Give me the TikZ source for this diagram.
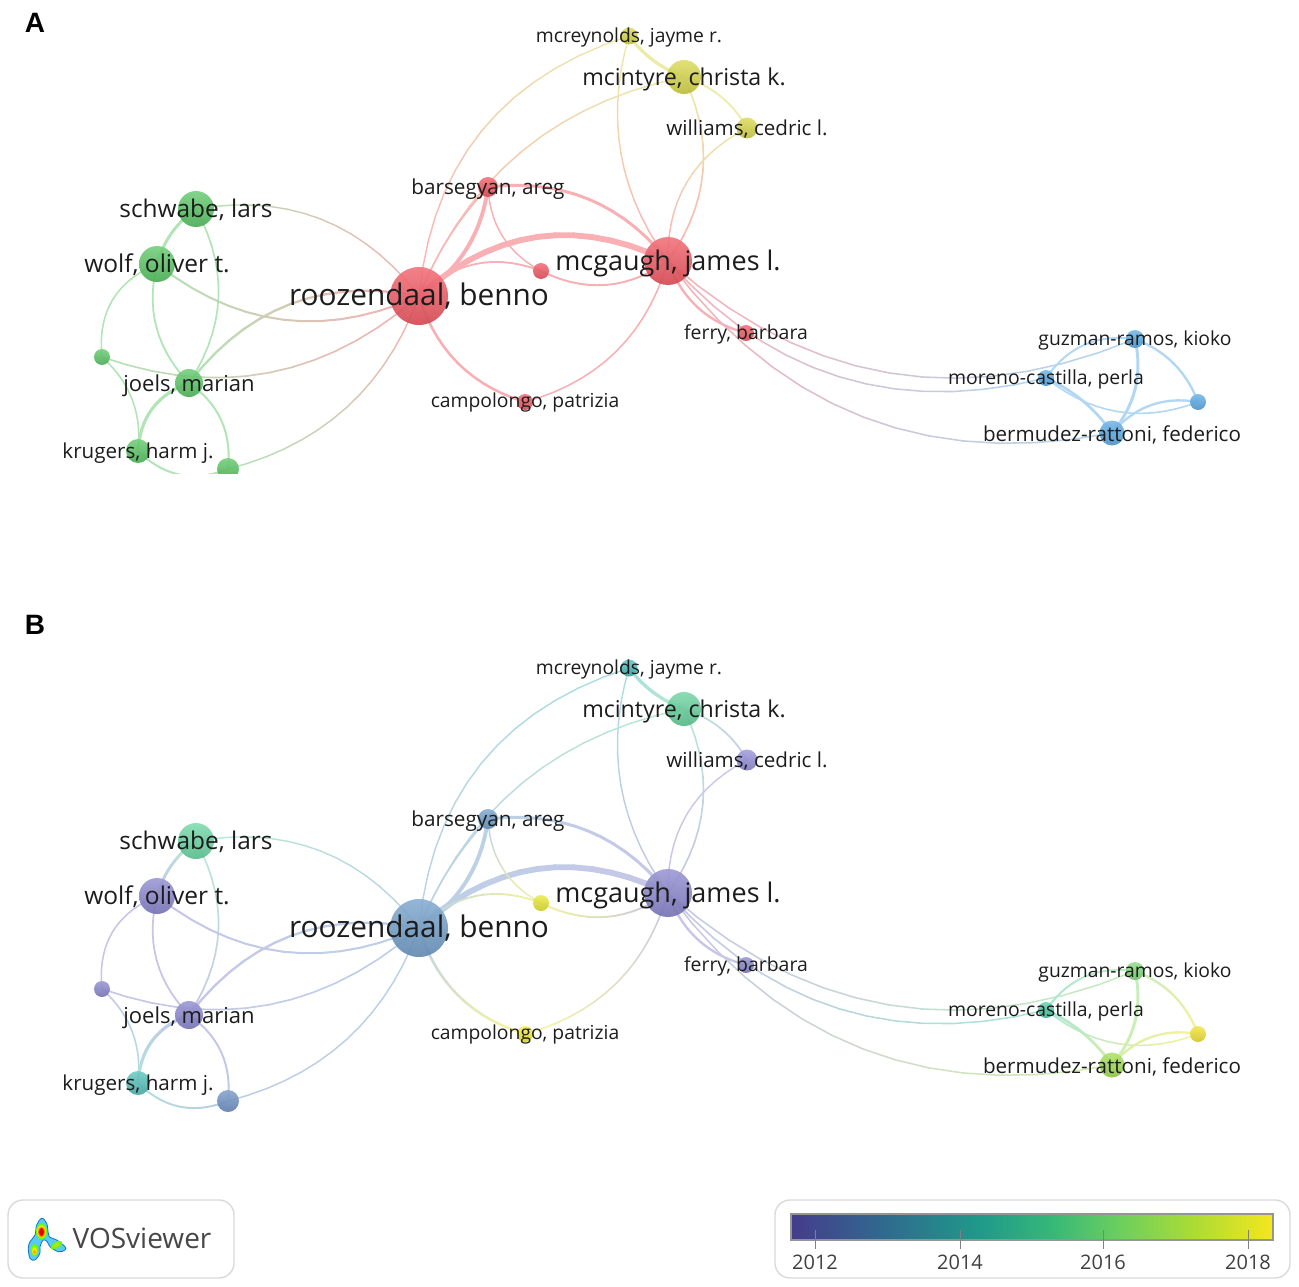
\documentclass[tikz,border=0pt]{standalone}
\usepackage{fontspec}
\setmainfont{Open Sans}
\newfontfamily\headfont{Liberation Sans}
\usetikzlibrary{calc}
\pgfdeclarelayer{edgelayer}
\pgfsetlayers{edgelayer,main}
% Panel A colours
\definecolor{A-roo}{HTML}{F0545E}\definecolor{A-mcg}{HTML}{F0545E}\definecolor{A-bar}{HTML}{F0545E}
\definecolor{A-sml}{HTML}{F0545E}\definecolor{A-cam}{HTML}{F0545E}\definecolor{A-fer}{HTML}{F0545E}
\definecolor{A-mcr}{HTML}{D6D646}\definecolor{A-mci}{HTML}{D6D646}\definecolor{A-wil}{HTML}{D6D646}
\definecolor{A-sch}{HTML}{55C460}\definecolor{A-wol}{HTML}{55C460}\definecolor{A-joe}{HTML}{55C460}
\definecolor{A-sma}{HTML}{55C460}\definecolor{A-kru}{HTML}{55C460}\definecolor{A-unn}{HTML}{55C460}
\definecolor{A-guz}{HTML}{58A8E4}\definecolor{A-mor}{HTML}{58A8E4}\definecolor{A-ber}{HTML}{58A8E4}\definecolor{A-bsm}{HTML}{58A8E4}
% Panel B colours
\definecolor{B-roo}{HTML}{6E9CC8}\definecolor{B-mcg}{HTML}{8682CC}\definecolor{B-bar}{HTML}{6C9CC8}
\definecolor{B-sml}{HTML}{E6E62E}\definecolor{B-cam}{HTML}{F0EC30}\definecolor{B-fer}{HTML}{8682CC}
\definecolor{B-mcr}{HTML}{48B8B8}\definecolor{B-mci}{HTML}{62D09A}\definecolor{B-wil}{HTML}{908CD8}
\definecolor{B-sch}{HTML}{66D4A0}\definecolor{B-wol}{HTML}{8682CC}\definecolor{B-joe}{HTML}{8682CC}
\definecolor{B-sma}{HTML}{8682CC}\definecolor{B-kru}{HTML}{50BEB8}\definecolor{B-unn}{HTML}{6C90C4}
\definecolor{B-guz}{HTML}{7FD878}\definecolor{B-mor}{HTML}{48C8A0}\definecolor{B-ber}{HTML}{A0DC50}\definecolor{B-bsm}{HTML}{F0E030}
\definecolor{inkc}{HTML}{1C1C1C}
\definecolor{boxc}{HTML}{DADADA}
\tikzset{
  vosnode/.style={circle,inner sep=0pt,minimum size=2*#1 pt,draw=none,fill opacity=.92},
  voslabel/.style={anchor=base,inner sep=0pt,text=inkc},
  legendbox/.style={draw=boxc,line width=1.4pt,rounded corners=15pt,fill=white},
  ticklabel/.style={anchor=base,inner sep=0pt,text=black!75,font=\fontsize{20}{20}\selectfont},
  tickmark/.style={draw=black!50,line width=1pt}
}
\def\nseg{14}
% \edge{from}{to}{width}{sag}: arc between two named nodes, colour running from one node's to the other's
\newcommand\edge[4]{%
  \coordinate (ev) at ($(\pfx-#1)!1pt!90:(\pfx-#2)-(\pfx-#1)$);
  \foreach \i in {1,...,\nseg}{%
    \pgfmathsetmacro\ta{(\i-1)/\nseg}%
    \pgfmathsetmacro\tb{\i/\nseg}%
    \pgfmathsetmacro\ha{4*\ta*(1-\ta)*(#4)}%
    \pgfmathsetmacro\hb{4*\tb*(1-\tb)*(#4)}%
    \pgfmathsetmacro\mx{int(round(100*(1-(\ta+\tb)/2)))}%
    \draw[line width=#3pt+0.35pt,line cap=round,color=\pfx-#1!\mx!\pfx-#2!\edgetint!white]
      ($(\pfx-#1)!\ta!(\pfx-#2)+\ha*(ev)$) -- ($(\pfx-#1)!\tb!(\pfx-#2)+\hb*(ev)$);
  }%
}
% \vnode{name}{x}{y}{radius}
\newcommand\vnode[4]{%
  \node[vosnode=#4,top color=\pfx-#1!80!white,bottom color=\pfx-#1!88!black] (\pfx-#1) at (#2,#3) {};
}
% \lab{node}{text}{size}{vertical tweak}
\newcommand\lab[4]{%
  \node[voslabel,font=\fontsize{#3}{#3}\selectfont] at ($(\pfx-#1)+(0,#3*0.33+#4)$) {#2};
}
\newcommand\panel[3]{% prefix, y offset, clip height
  \def\pfx{#1}%
  \begin{scope}[yshift=-#2pt]
    \begin{scope}
      \clip (-1,-1) rectangle (1300,#3);
      \vnode{roo}{419}{296}{29}
      \vnode{mcg}{668}{261}{24}
      \vnode{bar}{488}{187}{10}
      \vnode{sml}{541}{271}{8}
      \vnode{cam}{525}{402}{8}
      \vnode{fer}{746}{333}{8}
      \vnode{mcr}{629}{36}{8.5}
      \vnode{mci}{684}{77}{17}
      \vnode{wil}{747}{128}{10.5}
      \vnode{sch}{196}{209}{18}
      \vnode{wol}{157}{264}{18}
      \vnode{joe}{189}{383}{14}
      \vnode{sma}{102}{357}{8}
      \vnode{kru}{138}{451}{12}
      \vnode{unn}{228}{469}{11}
      \vnode{guz}{1135}{339}{9}
      \vnode{mor}{1046}{378}{8}
      \vnode{ber}{1112}{433}{12.5}
      \vnode{bsm}{1198}{402}{8}
    \end{scope}
    \begin{pgfonlayer}{edgelayer}
     \begin{scope}
      \clip (-1,-1) rectangle (1300,#3);
      \edge{roo}{mcg}{5.5}{42}
      \edge{roo}{bar}{3.5}{-15}
      \edge{roo}{bar}{1}{6}
      \edge{bar}{mcg}{2.6}{27}
      \edge{roo}{sml}{1.5}{20}
      \edge{sml}{mcg}{1.6}{-19}
      \edge{bar}{sml}{1.1}{-14}
      \edge{mcr}{mcg}{1.1}{-28}
      \edge{mci}{mcg}{1.3}{27}
      \edge{wil}{mcg}{1.1}{-24}
      \edge{mcr}{mci}{3}{-5}
      \edge{mci}{wil}{1.4}{8}
      \edge{roo}{mcr}{1.1}{55}
      \edge{roo}{mci}{1.1}{46}
      \edge{roo}{cam}{2.2}{-20}
      \edge{cam}{mcg}{1.2}{-28}
      \edge{mcg}{fer}{2}{-14}
      \edge{mcg}{guz}{1.2}{-74}
      \edge{mcg}{mor}{1.2}{-60}
      \edge{mcg}{ber}{1.2}{-75}
      \edge{mor}{guz}{1.6}{15}
      \edge{guz}{ber}{2.6}{12}
      \edge{guz}{bsm}{2}{10}
      \edge{mor}{ber}{2.4}{6}
      \edge{mor}{bsm}{1.2}{-22}
      \edge{ber}{bsm}{2}{13}
      \edge{sch}{wol}{2.6}{-6}
      \edge{sch}{joe}{1.3}{26}
      \edge{wol}{joe}{1.4}{-17}
      \edge{wol}{sma}{1.2}{-20}
      \edge{sma}{kru}{1.2}{13}
      \edge{joe}{kru}{2.8}{-14}
      \edge{joe}{unn}{1.6}{14}
      \edge{kru}{unn}{1.6}{-15}
      \edge{sch}{roo}{1.1}{36}
      \edge{wol}{roo}{1.7}{-40}
      \edge{joe}{roo}{2}{38}
      \edge{sma}{roo}{1.3}{-47}
      \edge{unn}{roo}{1.1}{-34}
     \end{scope}
    \end{pgfonlayer}
    \lab{roo}{roozendaal, benno}{29.8}{0}
    \lab{mcg}{mcgaugh, james l.}{27}{0.3}
    \lab{bar}{barsegyan, areg}{20.7}{1}
    \lab{cam}{campolongo, patrizia}{19.3}{-1}
    \lab{fer}{ferry, barbara}{19.4}{0}
    \lab{mcr}{mcreynolds, jayme r.}{19.3}{0}
    \lab{mci}{mcintyre, christa k.}{23.2}{1.3}
    \lab{wil}{williams, cedric l.}{20.6}{1}
    \lab{sch}{schwabe, lars}{24.4}{0}
    \lab{wol}{wolf, oliver t.}{24.5}{0}
    \lab{joe}{joels, marian}{22}{1}
    \lab{kru}{krugers, harm j.}{20.6}{1}
    \lab{guz}{guzman-ramos, kioko}{19.3}{0.2}
    \lab{mor}{moreno-castilla, perla}{19.4}{0.2}
    \lab{ber}{bermudez-rattoni, federico}{20.6}{1.5}
  \end{scope}
}
\begin{document}
\begin{tikzpicture}[x=1pt,y=-1pt]
  \useasboundingbox (0,0) rectangle (1299,1287);
  \def\edgetint{46}
  \panel{A}{0}{473}
  \panel{B}{632}{540}
  \node[anchor=base,inner sep=0pt,font=\headfont\bfseries\fontsize{28}{28}\selectfont] (pa) at (35,33) {A};
  \node[anchor=base,inner sep=0pt,font=\headfont\bfseries\fontsize{28}{28}\selectfont] (pb) at (35,634) {B};
  % VOSviewer legend
  \draw[legendbox] (8,1200) rectangle (234,1278);
  \draw[draw=cyan!55!blue,line width=.8pt,fill=cyan!65!white] plot[smooth cycle,tension=.6] coordinates {(41.7,1218.3)(46.7,1223.3)(48.3,1233.3)(50,1237.3)(56.7,1240)(65,1246.7)(65,1250)(58.3,1251.7)(50,1246.7)(47.3,1241.7)(43.3,1240)(40,1246.7)(40,1253)(35,1260)(30,1258.3)(28.3,1248.3)(30,1241.7)(35,1235)(36.7,1225)};
  \fill[green!60!yellow] (41.5,1231.5) ellipse (5.5 and 8);
  \fill[yellow!85!orange] (41.5,1231.5) ellipse (4.5 and 6.3);
  \fill[orange] (41.5,1232) ellipse (3.6 and 5.2);
  \fill[red!90!black] (41.5,1232) ellipse (2.4 and 4);
  \fill[green!60!yellow,rotate around={30:(56.5,1245)}] (56.5,1245) ellipse (6.5 and 3);
  \fill[yellow!75!green,rotate around={30:(56.5,1245)}] (56.5,1245) ellipse (3.5 and 1.6);
  \fill[green!60!yellow] (34.5,1250) ellipse (3.8 and 6);
  \fill[yellow!85!orange] (34.5,1251) ellipse (2.4 and 4);
  \fill[orange!70!yellow] (34.5,1252) ellipse (1.2 and 2);
  \node[anchor=base,inner sep=0pt,text=black!72,font=\fontsize{28}{28}\selectfont] (vos) at (142,1248) {VOSviewer};
  % Colour bar legend
  \draw[legendbox] (775,1200) rectangle (1290,1278);
  \definecolor{s0}{HTML}{453C8C}\definecolor{s1}{HTML}{31688E}\definecolor{s2}{HTML}{1F9A8A}
  \definecolor{s3}{HTML}{35B779}\definecolor{s4}{HTML}{6CCF5E}\definecolor{s5}{HTML}{A8DB36}\definecolor{s6}{HTML}{F5E61E}
  \shade[left color=s0,right color=s1] (791,1214) rectangle (880,1240);
  \shade[left color=s1,right color=s2] (880,1214) rectangle (980,1240);
  \shade[left color=s2,right color=s3] (980,1214) rectangle (1050,1240);
  \shade[left color=s3,right color=s4] (1050,1214) rectangle (1120,1240);
  \shade[left color=s4,right color=s5] (1120,1214) rectangle (1190,1240);
  \shade[left color=s5,right color=s6] (1190,1214) rectangle (1273,1240);
  \draw[draw=black!42,line width=1.6pt] (791,1214) rectangle (1273,1240);
  \foreach \x/\y in {815/2012,960/2014,1103/2016,1248/2018}{
    \draw[tickmark] (\x,1230) -- (\x,1249);
    \node[ticklabel] at (\x,1269) {\y};
  }
\end{tikzpicture}
\end{document}
